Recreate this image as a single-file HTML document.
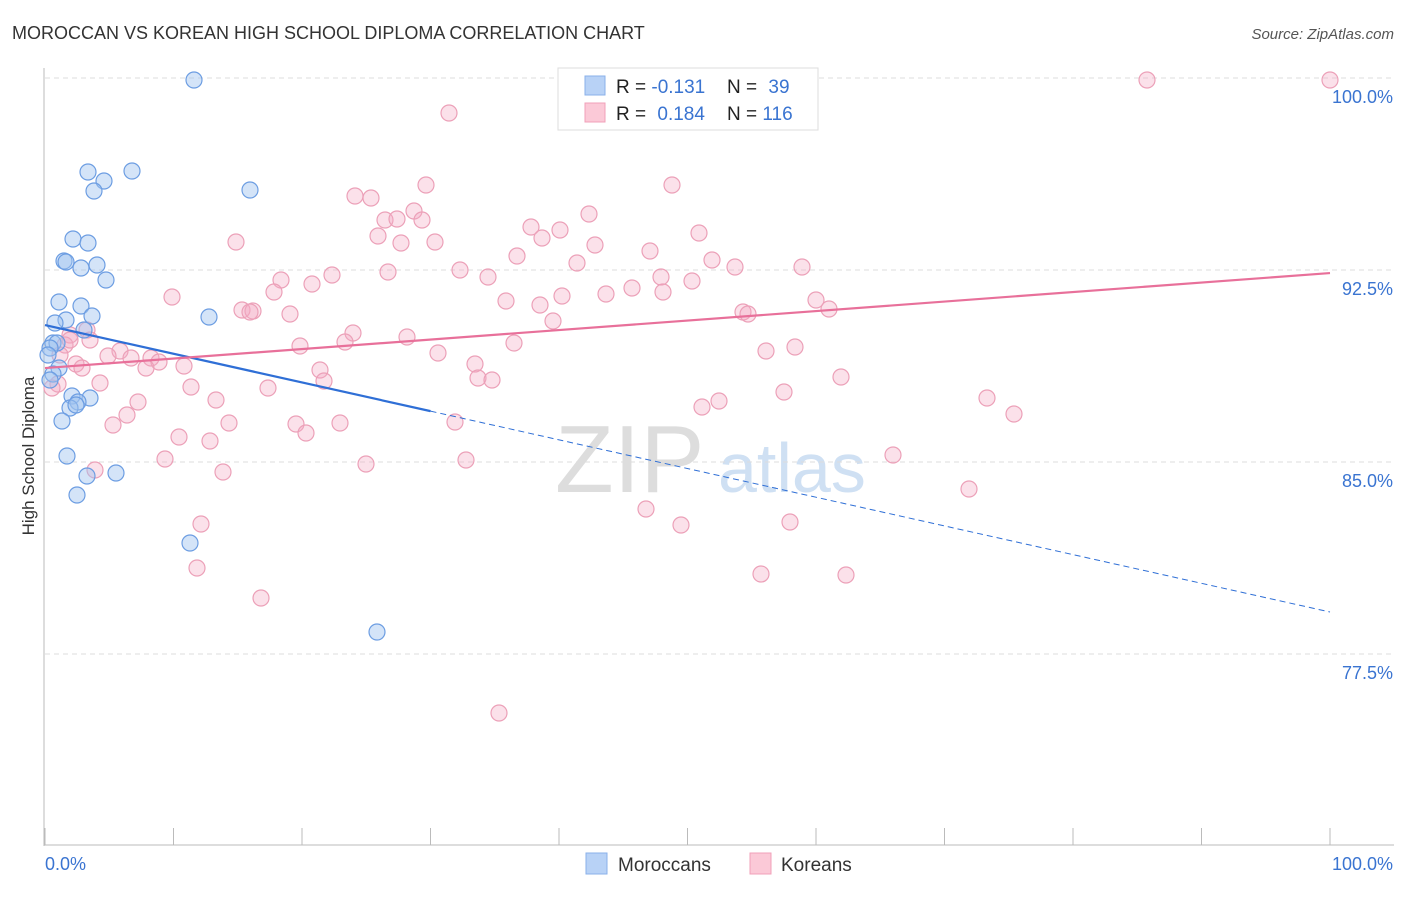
<!DOCTYPE html>
<html><head><meta charset="utf-8"><style>
body{margin:0;background:#fff;font-family:"Liberation Sans",sans-serif;}
svg text{font-family:"Liberation Sans",sans-serif;}
</style></head><body>
<svg id="c" width="1406" height="892">
<text x="12" y="39" font-size="18" fill="#333">MOROCCAN VS KOREAN HIGH SCHOOL DIPLOMA CORRELATION CHART</text>
<text x="1394" y="39" font-size="15" fill="#555" font-style="italic" text-anchor="end">Source: ZipAtlas.com</text>
<text x="34" y="456" font-size="17" fill="#333" transform="rotate(-90 34 456)" text-anchor="middle">High School Diploma</text>
<text x="555" y="492" font-size="96" fill="#ddd" font-family="Liberation Serif">ZIP</text>
<text x="718" y="492" font-size="70" fill="#cfe0f3">atlas</text>
<g id="grid"></g><g id="pts"></g><g id="lines"></g>
<g>
<rect x="558" y="68" width="260" height="62" fill="#fff" stroke="#ddd"/>
<rect x="585" y="76" width="20" height="19" fill="#b8d2f6" stroke="#8ab0ea"/>
<rect x="585" y="103" width="20" height="19" fill="#fbc9d7" stroke="#f0a0b9"/>
<text x="616" y="93" font-size="19" fill="#222">R = <tspan fill="#3a74d1">-0.131</tspan></text>
<text x="727" y="93" font-size="19" fill="#222">N = <tspan fill="#3a74d1" dx="6">39</tspan></text>
<text x="616" y="120" font-size="19" fill="#222">R = <tspan fill="#3a74d1" dx="6">0.184</tspan></text>
<text x="727" y="120" font-size="19" fill="#222">N = <tspan fill="#3a74d1">116</tspan></text>
</g>
<g>
<rect x="586" y="853" width="21" height="21" fill="#b8d2f6" stroke="#8ab0ea"/>
<text x="618" y="871" font-size="19" fill="#333">Moroccans</text>
<rect x="750" y="853" width="21" height="21" fill="#fbc9d7" stroke="#f0a0b9"/>
<text x="781" y="871" font-size="19" fill="#333">Koreans</text>
</g>
<text x="45" y="870" font-size="18" fill="#3a74d1">0.0%</text>
<text x="1393" y="870" font-size="18" fill="#3a74d1" text-anchor="end">100.0%</text>
</svg>
<script>
const NS="http://www.w3.org/2000/svg";
const yTicks=[100,92.5,85,77.5];
const yTickLabels=["100.0%","92.5%","85.0%","77.5%"];
const blueX=[(194),88,132,104,94,250,73,88,64,66,97,81,106,59,81,209,92,66,55,84,53,57,50,59,53,50,90,72,78,70,76,62,67,116,87,77,190,377,48];
const blueYpx=[80,172,171,181,191,190,239,243,261,262,265,268,280,302,306,317,316,320,323,330,343,343,348,368,374,380,398,396,402,408,405,421,456,473,476,495,543,632,355];
const pinkXpx=[567,1147,1330,449,672,426,355,371,589,414,385,397,422,531,699,560,378,542,236,401,435,595,650,517,712,577,735,802,460,388,332,488,661,281,692,312,632,274,663,606,172,506,816,562,540,242,253,250,829,743,748,290,553,87,353,70,407,345,514,300,795,766,120,438,108,131,151,159,76,82,184,146,475,320,324,478,492,841,100,191,268,784,138,216,719,702,987,127,113,229,340,296,455,306,179,210,1014,893,165,366,466,95,223,969,646,201,681,790,197,761,846,261,499,58,52,65,60,70,90];
const pinkYpx=[79,80,80,113,185,185,196,198,214,211,220,219,220,227,233,230,236,238,242,243,242,245,251,256,260,263,267,267,270,272,275,277,277,280,281,284,288,292,292,294,297,301,300,296,305,310,311,312,309,312,314,314,321,330,333,335,337,342,343,346,347,351,351,353,356,358,358,362,364,368,366,368,364,370,381,378,380,377,383,387,388,392,402,400,401,407,398,415,425,423,423,424,422,433,437,441,414,455,459,464,460,470,472,489,509,524,525,522,568,574,575,598,713,384,388,345,355,340,340];
// convert pixel reads to data values
const xv=p=>(p-45)/12.85, yv=p=>100-(p-78)/25.6;
const blueXs=blueX.map(xv), blueYs=blueYpx.map(yv);
const pinkXs=pinkXpx.map(xv), pinkYs=pinkYpx.map(yv);
const blueTrend=[90.35,79.14], pinkTrend=[88.67,92.38];
const X=v=>45+v*12.85, Y=v=>78+(100-v)*25.6;
const svg=document.getElementById('c');
function mk(t,a,parent){const e=document.createElementNS(NS,t);for(const k in a)e.setAttribute(k,a[k]);(parent||svg).appendChild(e);return e;}
const g=document.getElementById('grid');
mk('line',{x1:44,y1:68,x2:44,y2:846,stroke:'#bbb'},g);
mk('line',{x1:44,y1:845,x2:1394,y2:845,stroke:'#bbb'},g);
for(let i=0;i<=10;i++){const l=mk('line',{x1:X(i*10),y1:828,x2:X(i*10),y2:845,stroke:'#bbb'},g);

}
yTicks.forEach((t,i)=>{const l=mk('line',{x1:45,y1:Y(t),x2:1394,y2:Y(t),stroke:'#ddd','stroke-dasharray':'5,4'},g);


const tx=mk('text',{x:1393,y:Y(t)+25,'font-size':18,fill:'#3a74d1','text-anchor':'end'},g);tx.textContent=yTickLabels[i];

});
const P=document.getElementById('pts');
pinkXs.forEach((x,i)=>{const c=mk('circle',{cx:X(x),cy:Y(pinkYs[i]),r:8,fill:'rgba(244,170,194,0.35)',stroke:'#eca0b8','stroke-width':1.2},P);

});
blueXs.forEach((x,i)=>{const c=mk('circle',{cx:X(x),cy:Y(blueYs[i]),r:8,fill:'rgba(160,195,240,0.45)',stroke:'#6c9de2','stroke-width':1.2},P);

});
const L=document.getElementById('lines');
const by=x=>blueTrend[0]+(blueTrend[1]-blueTrend[0])*x/100;
let a=mk('line',{x1:X(0),y1:Y(by(0)),x2:X(30),y2:Y(by(30)),stroke:'#2f6fd6','stroke-width':2.2},L);


a=mk('line',{x1:X(30),y1:Y(by(30)),x2:X(100),y2:Y(by(100)),stroke:'#2f6fd6','stroke-width':1,'stroke-dasharray':'6,4'},L);


a=mk('line',{x1:X(0),y1:Y(pinkTrend[0]),x2:X(100),y2:Y(pinkTrend[1]),stroke:'#e8709a','stroke-width':2.2},L);


</script>
</body></html>
